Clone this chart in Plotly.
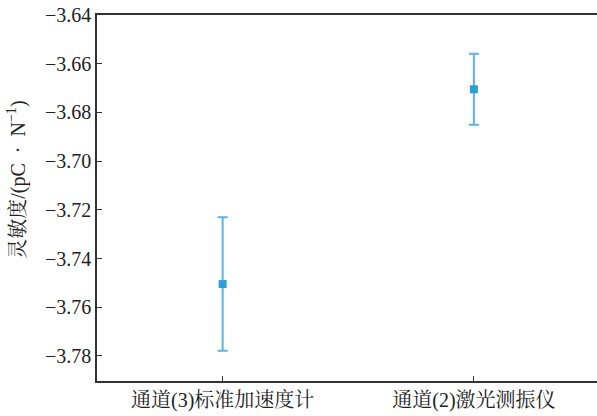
import plotly.graph_objects as go

categories = ["通道(3)标准加速度计", "通道(2)激光测振仪"]
means = [-3.7505, -3.6705]
errors = [0.0274, 0.0146]
y_ticks = [-3.78, -3.76, -3.74, -3.72, -3.70, -3.68, -3.66, -3.64]
y_tick_labels = ["−3.78", "−3.76", "−3.74", "−3.72", "−3.70", "−3.68", "−3.66", "−3.64"]
y_title = "灵敏度/(pC\u2002·\u2002N<sup>−1</sup>)"

fig = go.Figure()
fig.add_trace(go.Scatter(
    x=[0, 1], y=means, mode="markers",
    marker=dict(symbol="square", size=8, color="#2a9ed8"),
    error_y=dict(type="data", array=errors, visible=True, color="#5db2e2", thickness=2, width=5),
    showlegend=False,
))

font_family = "Liberation Serif, Noto Serif CJK SC, Noto Sans CJK SC, serif"
fig.update_layout(
    width=597, height=416, autosize=False,
    margin=dict(l=97, r=0, t=15, b=35),
    paper_bgcolor="white", plot_bgcolor="white",
    font=dict(family=font_family, size=20, color="#222"),
    xaxis=dict(
        range=[-0.5, 1.49], tickvals=[0, 1], ticktext=categories,
        showline=True, linecolor="#333", linewidth=1.5, mirror=True,
        ticks="inside", ticklen=5, tickcolor="#333", tickwidth=1.2,
        showgrid=False, zeroline=False, tickfont=dict(size=20),
    ),
    yaxis=dict(
        range=[-3.7903, -3.64], tickvals=y_ticks, ticktext=y_tick_labels,
        showline=True, linecolor="#333", linewidth=1.5,
        ticks="inside", ticklen=5, tickcolor="#333", tickwidth=1.2,
        showgrid=False, zeroline=False, tickfont=dict(size=20),
    ),
    annotations=[dict(
        text=y_title, textangle=-90, showarrow=False,
        xref="paper", yref="paper", x=-0.16, y=0.55,
        xanchor="center", yanchor="middle",
        font=dict(size=20, family=font_family, color="#222"),
    )],
)

fig.write_html("out.html")
